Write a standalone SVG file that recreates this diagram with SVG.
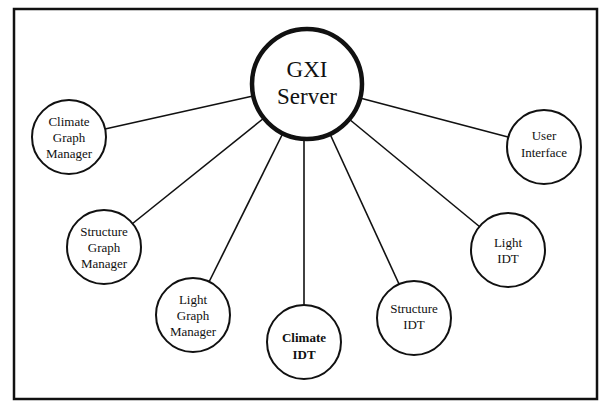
<svg xmlns="http://www.w3.org/2000/svg" width="600" height="404" viewBox="0 0 600 404">
<style>
.n{fill:#fff;stroke:#111;stroke-width:2}
.hub{fill:#fff;stroke:#111;stroke-width:4.5}
.t{font-family:"Liberation Serif","Times New Roman",serif;font-size:13px;fill:#111;text-anchor:middle}
.big{font-family:"Liberation Serif","Times New Roman",serif;font-size:23px;fill:#111;text-anchor:middle}
.c line{stroke:#111;stroke-width:1.6}
</style>
<rect x="14" y="9" width="583" height="390" fill="#fff" stroke="#111" stroke-width="2.5"/>
<g class="c" id="connectors">
<line x1="253" y1="96" x2="105" y2="129"/>
<line x1="264" y1="118" x2="132" y2="224"/>
<line x1="283" y1="133" x2="209" y2="282"/>
<line x1="304" y1="139" x2="304" y2="305"/>
<line x1="330" y1="134" x2="399" y2="284"/>
<line x1="349" y1="119" x2="480" y2="227"/>
<line x1="360" y1="98" x2="508" y2="137"/>
</g>
<g id="gxi-server">
<circle class="hub" cx="307" cy="84" r="55"/>
<text class="big" x="307" y="77">GXI</text>
<text class="big" x="307" y="104">Server</text>
</g>
<g id="climate-graph-manager">
<circle class="n" cx="69" cy="137" r="37"/>
<text class="t" x="69" y="126">Climate</text>
<text class="t" x="69" y="142">Graph</text>
<text class="t" x="69" y="158">Manager</text>
</g>
<g id="structure-graph-manager">
<circle class="n" cx="104" cy="247" r="37"/>
<text class="t" x="104" y="236">Structure</text>
<text class="t" x="104" y="252">Graph</text>
<text class="t" x="104" y="268">Manager</text>
</g>
<g id="light-graph-manager">
<circle class="n" cx="193" cy="315" r="37"/>
<text class="t" x="193" y="304">Light</text>
<text class="t" x="193" y="320">Graph</text>
<text class="t" x="193" y="336">Manager</text>
</g>
<g id="climate-idt">
<circle class="n" cx="304" cy="342" r="37"/>
<text class="t" x="304" y="342" font-weight="bold">Climate</text>
<text class="t" x="304" y="359" font-weight="bold">IDT</text>
</g>
<g id="structure-idt">
<circle class="n" cx="414" cy="318" r="37"/>
<text class="t" x="414" y="313">Structure</text>
<text class="t" x="414" y="329">IDT</text>
</g>
<g id="light-idt">
<circle class="n" cx="508" cy="250" r="37"/>
<text class="t" x="508" y="247">Light</text>
<text class="t" x="508" y="263">IDT</text>
</g>
<g id="user-interface">
<circle class="n" cx="544" cy="147" r="37"/>
<text class="t" x="544" y="140">User</text>
<text class="t" x="544" y="157">Interface</text>
</g>
</svg>
